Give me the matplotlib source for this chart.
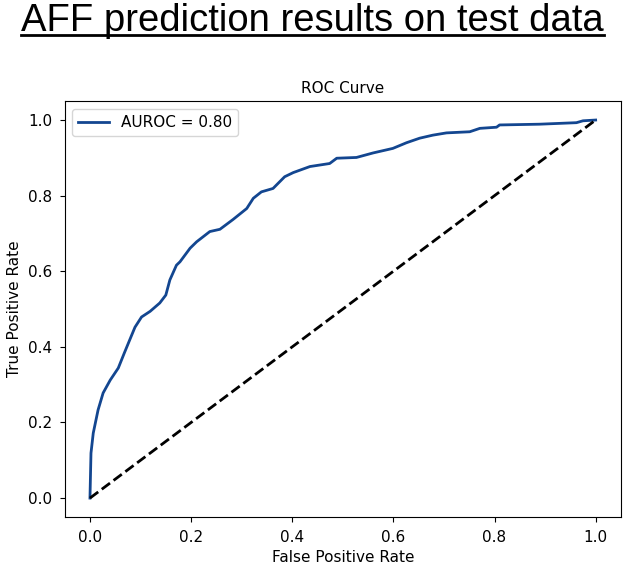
import matplotlib
matplotlib.use('Agg')
import matplotlib.pyplot as plt
from matplotlib.lines import Line2D

# ROC curve
fpr = [0.0, 0.002, 0.0065, 0.016, 0.026, 0.040, 0.056, 0.068, 0.076, 0.089,
       0.102, 0.119, 0.138, 0.150, 0.158, 0.171, 0.178, 0.198, 0.211, 0.237,
       0.257, 0.283, 0.310, 0.323, 0.339, 0.362, 0.385, 0.402, 0.435, 0.474,
       0.488, 0.527, 0.560, 0.599, 0.626, 0.652, 0.678, 0.705, 0.751, 0.771,
       0.804, 0.810, 0.889, 0.962, 0.975, 1.0]
tpr = [0.0, 0.119, 0.172, 0.233, 0.278, 0.312, 0.344, 0.384, 0.410, 0.452,
       0.479, 0.494, 0.516, 0.537, 0.577, 0.616, 0.625, 0.661, 0.678, 0.705,
       0.711, 0.737, 0.766, 0.793, 0.810, 0.819, 0.850, 0.861, 0.877, 0.885,
       0.899, 0.901, 0.913, 0.925, 0.940, 0.952, 0.960, 0.966, 0.969, 0.978,
       0.981, 0.987, 0.989, 0.993, 0.998, 1.0]
auroc = 0.80
chance = [0, 1]

fig = plt.figure(figsize=(6.25, 5.65), dpi=100)
ax = fig.add_axes([0.1035, 0.085, 0.89, 0.736])

ax.plot(fpr, tpr, color='#134690', lw=2, label='AUROC = %.2f' % auroc)
ax.plot(chance, chance, color='black', lw=2, linestyle='--')
ax.set_title('ROC Curve', fontsize=11)
ax.set_xlabel('False Positive Rate', fontsize=11)
ax.set_ylabel('True Positive Rate', fontsize=11)
ax.tick_params(labelsize=11, length=3.6, pad=5.5)
ax.legend(loc='upper left', fontsize=11)

# big underlined heading
t = fig.text(0.5, 1 - 31 / 565, 'AFF prediction results on test data', ha='center',
             va='baseline', fontsize=27.5, family='Liberation Sans')
fig.canvas.draw()
bb = t.get_window_extent().transformed(fig.transFigure.inverted())
fig.add_artist(Line2D([bb.x0, bb.x1], [1 - 35 / 565] * 2, color='black', lw=2,
                      transform=fig.transFigure))

plt.savefig('out.png', dpi=100)
